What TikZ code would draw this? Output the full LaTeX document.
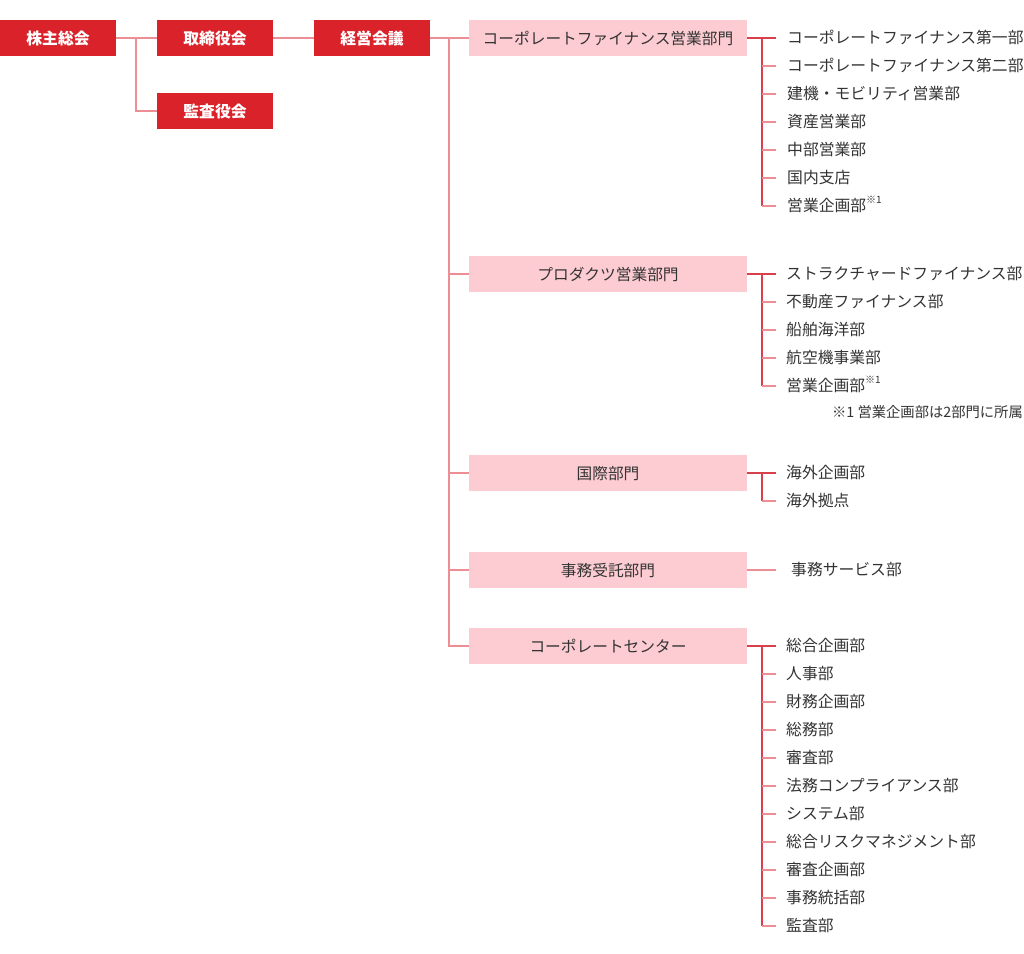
\documentclass[tikz,border=0pt]{standalone}
\usepackage{fontspec}
\setmainfont{Noto Sans CJK JP}
\definecolor{boxred}{HTML}{DA222B}
\definecolor{boxpink}{HTML}{FDCCD2}
\definecolor{linelight}{HTML}{EC8E94}
\definecolor{linedark}{HTML}{D8414B}
\definecolor{txt}{HTML}{333333}
\newcommand{\noteone}{\raisebox{0.5em}{\fontsize{10}{10}\selectfont ※1}}
\tikzset{
  redbox/.style={fill=boxred, text=white, font=\fontsize{15.8}{16}\selectfont\bfseries, minimum width=116pt, minimum height=36pt, inner sep=0pt, text height=1.2em, text depth=0em},
  pinkbox/.style={fill=boxpink, text=txt, font=\fontsize{15.7}{16}\selectfont, minimum width=278pt, minimum height=36pt, inner sep=0pt, text height=1.22em, text depth=0em},
  item/.style={anchor=west, inner sep=0pt, text=txt, font=\fontsize{15.8}{16}\selectfont, text height=1.16em, text depth=0em},
  note/.style={inner sep=0pt, text=txt, font=\fontsize{14.3}{14}\selectfont, text height=1.1em, text depth=0em},
  lightline/.style={draw=linelight, line width=1.3pt},
  darkline/.style={draw=linedark, line width=1.3pt}
}
\begin{document}
\begin{tikzpicture}[x=1pt,y=-1pt]
\useasboundingbox (0,0) rectangle (1024,953);
% top level
\node[redbox] (kabu) at (58,38) {株主総会};
\node[redbox] (tori) at (215,38) {取締役会};
\node[redbox] (kansa) at (215,111) {監査役会};
\node[redbox] (keiei) at (372,38) {経営会議};
\coordinate (j1) at (136,38);
\coordinate (j2) at (449,38);
\draw[lightline] (kabu.east) -- (tori.west);
\draw[lightline] (j1) |- (kansa.west);
\draw[lightline] (tori.east) -- (keiei.west);
% divisions
\node[pinkbox] (p1) at (608,38) {コーポレートファイナンス営業部門};
\node[pinkbox] (p2) at (608,274) {プロダクツ営業部門};
\node[pinkbox] (p3) at (608,473) {国際部門};
\node[pinkbox] (p4) at (608,570) {事務受託部門};
\node[pinkbox] (p5) at (608,646) {コーポレートセンター};
\draw[lightline] (keiei.east) -- (p1.west);
\draw[lightline] (j2) -- (j2 |- p5.west) -- (p5.west);
\foreach \p in {p2,p3,p4} \draw[lightline] (j2 |- \p.west) -- (\p.west);
\coordinate (v) at (762,0);
% group 1
\foreach \t [count=\i] in {コーポレートファイナンス第一部, コーポレートファイナンス第二部, 建機・モビリティ営業部, 資産営業部, 中部営業部, 国内支店, 営業企画部\noteone}
  \node[item] (a\i) at (787,{38+28*(\i-1)}) {\t};
\draw[darkline] (p1.east) -- ([xshift=-11pt]a1.west);
\draw[darkline] (v |- a1.west) -- (v |- a7.west);
\foreach \i in {2,...,7} \draw[lightline] (v |- a\i.west) -- ([xshift=-11pt]a\i.west);
% group 2
\foreach \t [count=\i] in {ストラクチャードファイナンス部, 不動産ファイナンス部, 船舶海洋部, 航空機事業部, 営業企画部\noteone}
  \node[item] (b\i) at (786,{274+28*(\i-1)}) {\t};
\draw[darkline] (p2.east) -- ([xshift=-10pt]b1.west);
\draw[darkline] (v |- b1.west) -- (v |- b5.west);
\foreach \i in {2,...,5} \draw[lightline] (v |- b\i.west) -- ([xshift=-10pt]b\i.west);
\node[note, anchor=east] (fn) at (1023,412) {※1 営業企画部は2部門に所属};
% group 3
\foreach \t [count=\i] in {海外企画部, 海外拠点}
  \node[item] (c\i) at (786,{473+28*(\i-1)}) {\t};
\draw[darkline] (p3.east) -- ([xshift=-10pt]c1.west);
\draw[darkline] (v |- c1.west) -- (v |- c2.west);
\draw[lightline] (v |- c2.west) -- ([xshift=-10pt]c2.west);
% group 4
\node[item] (d1) at (791,570) {事務サービス部};
\draw[lightline] (p4.east) -- ([xshift=-15pt]d1.west);
% group 5
\foreach \t [count=\i] in {総合企画部, 人事部, 財務企画部, 総務部, 審査部, 法務コンプライアンス部, システム部, 総合リスクマネジメント部, 審査企画部, 事務統括部, 監査部}
  \node[item] (e\i) at (786,{646+28*(\i-1)}) {\t};
\draw[darkline] (p5.east) -- ([xshift=-10pt]e1.west);
\draw[darkline] (v |- e1.west) -- (v |- e11.west);
\foreach \i in {2,...,11} \draw[lightline] (v |- e\i.west) -- ([xshift=-10pt]e\i.west);
\end{tikzpicture}
\end{document}
